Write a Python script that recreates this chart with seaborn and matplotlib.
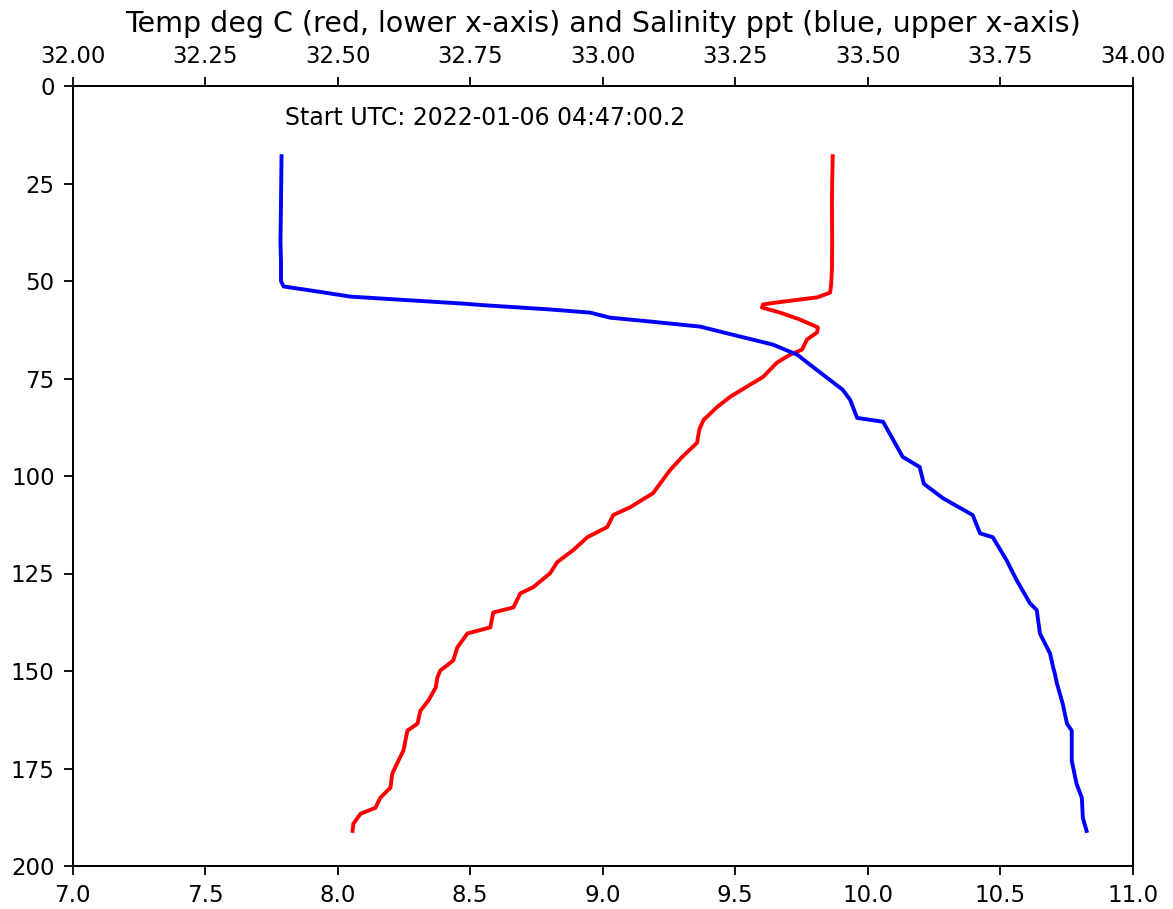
import matplotlib
matplotlib.use("Agg")
import matplotlib.pyplot as plt
import seaborn as sns
import numpy as np
import pandas as pd
from matplotlib.ticker import FormatStrFormatter, MultipleLocator

# Temperature profile (deg C) vs depth
temp_depth = [18, 25, 30, 40, 47, 51, 53, 54.2, 55.3, 56.0, 56.8, 58.1, 59.9, 61.9, 63.2,
              65.0, 67.6, 68.9, 70.9, 74.6, 76.6, 79.7, 82.3, 85.6, 88, 91.5, 95.1, 98.5,
              104.4, 108.0, 110.0, 113.1, 115.7, 119.0, 122.1, 124.9, 128.5, 130.1, 133.7,
              135.0, 138.8, 140.4, 144.0, 147.3, 149.9, 151.7, 154.2, 157.6, 160.2, 163.5,
              165.3, 170.4, 173.0, 176.3, 179.9, 182.5, 185.1, 186.6, 189.2, 191.0]
temp_vals = [9.868, 9.866, 9.865, 9.866, 9.865, 9.862, 9.858, 9.809, 9.680, 9.605, 9.601,
             9.669, 9.745, 9.812, 9.809, 9.771, 9.752, 9.707, 9.658, 9.605, 9.556, 9.481,
             9.432, 9.381, 9.365, 9.356, 9.300, 9.254, 9.190, 9.104, 9.040, 9.017, 8.942,
             8.889, 8.828, 8.802, 8.738, 8.689, 8.663, 8.587, 8.576, 8.489, 8.451, 8.436,
             8.387, 8.376, 8.370, 8.342, 8.312, 8.301, 8.263, 8.248, 8.229, 8.206, 8.199,
             8.161, 8.142, 8.086, 8.059, 8.056]

# Salinity profile (ppt) vs depth
sal_depth = [18, 30, 40, 45, 50, 51.4, 52.7, 54.0, 54.8, 55.8, 56.2, 57.3, 58.1, 59.4, 60.4,
             61.7, 63.8, 66.3, 68.9, 72.8, 77.9, 80.5, 85.1, 86.1, 90.7, 95.1, 97.7, 102.0,
             105.7, 106.7, 110.0, 114.7, 115.7, 121.6, 126.7, 132.6, 134.4, 140.4, 145.5,
             149.1, 150.6, 153.2, 158.4, 163.5, 165.3, 173.0, 178.9, 182.5, 187.7, 191.0]
sal_vals = [32.394, 32.393, 32.392, 32.393, 32.393, 32.398, 32.462, 32.524, 32.618, 32.737,
            32.775, 32.901, 32.976, 33.014, 33.090, 33.184, 33.246, 33.321, 33.367, 33.404,
            33.453, 33.467, 33.480, 33.529, 33.548, 33.566, 33.598, 33.606, 33.642, 33.655,
            33.698, 33.712, 33.736, 33.762, 33.781, 33.806, 33.819, 33.825, 33.844, 33.850,
            33.853, 33.857, 33.868, 33.876, 33.885, 33.885, 33.894, 33.904, 33.906, 33.913]

title = "Temp deg C (red, lower x-axis) and Salinity ppt (blue, upper x-axis)"
start_label = "Start UTC: 2022-01-06 04:47:00.2"

df_t = pd.DataFrame({"depth": temp_depth, "temp": temp_vals})
df_s = pd.DataFrame({"depth": sal_depth, "sal": sal_vals})

plt.rcParams.update({
    "font.family": "DejaVu Sans",
    "font.size": 16,
    "axes.linewidth": 1.3,
    "xtick.major.size": 6.5,
    "ytick.major.size": 6.5,
    "xtick.major.width": 1.3,
    "ytick.major.width": 1.3,
    "xtick.major.pad": 6.5,
    "ytick.major.pad": 6.5,
    "xtick.labelsize": 16.5,
    "ytick.labelsize": 16.5,
})

fig = plt.figure(figsize=(11.73, 9.09), dpi=100)
ax = fig.add_axes([72.7 / 1173, 1 - 866 / 909, (1132.7 - 72.7) / 1173, (866 - 86) / 909])

sns.lineplot(data=df_t, x="temp", y="depth", sort=False, estimator=None,
             color="red", linewidth=2.8, ax=ax)
ax.set_xlim(7.0, 11.0)
ax.set_ylim(200, 0)
ax.xaxis.set_major_locator(MultipleLocator(0.5))
ax.xaxis.set_major_formatter(FormatStrFormatter("%.1f"))
ax.yaxis.set_major_locator(MultipleLocator(25))
ax.set_xlabel("")
ax.set_ylabel("")
ax.text(7.8, 10, start_label, fontsize=17)

ax2 = ax.twiny()
sns.lineplot(data=df_s, x="sal", y="depth", sort=False, estimator=None,
             color="blue", linewidth=2.8, ax=ax2)
ax2.set_xlim(32.0, 34.0)
ax2.set_ylim(200, 0)
ax2.xaxis.set_major_locator(MultipleLocator(0.25))
ax2.xaxis.set_major_formatter(FormatStrFormatter("%.2f"))
ax2.set_xlabel("")
ax2.set_ylabel("")
ax2.set_title(title, fontsize=20.5, pad=9)

fig.savefig("out.png", dpi=100)
